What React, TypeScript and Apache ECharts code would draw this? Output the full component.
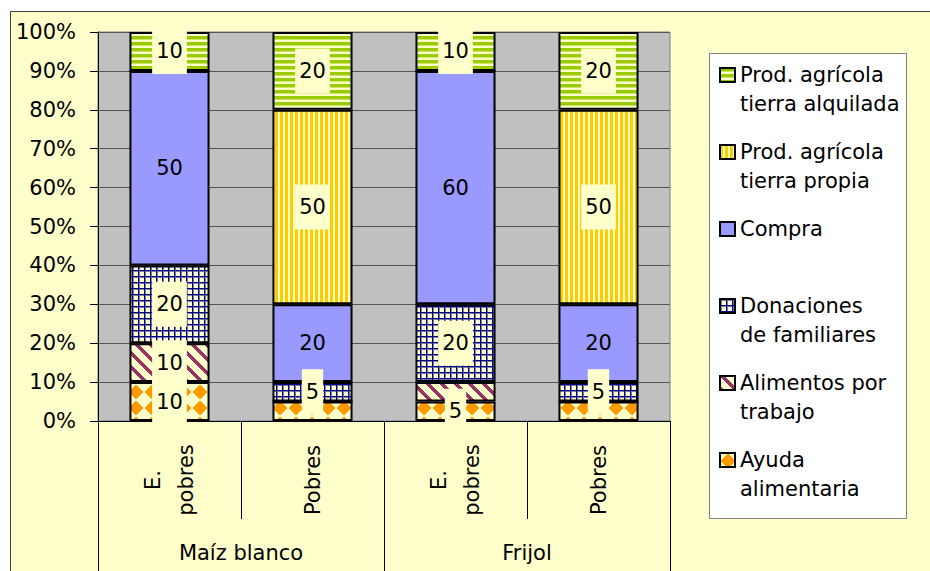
import React, { useEffect, useRef } from 'react';
import * as echarts from 'echarts';

// ---------- data ----------
const categories = ['E.\npobres', 'Pobres', 'E.\npobres', 'Pobres'];
const groups = ['Maíz blanco', 'Frijol'];
const seriesNames = [
  'Ayuda alimentaria',
  'Alimentos por trabajo',
  'Donaciones de familiares',
  'Compra',
  'Prod. agrícola tierra propia',
  'Prod. agrícola tierra alquilada',
];
const legendLines = [
  'Ayuda\nalimentaria',
  'Alimentos por\ntrabajo',
  'Donaciones\nde familiares',
  'Compra',
  'Prod. agrícola\ntierra propia',
  'Prod. agrícola\ntierra alquilada',
];
const ayudaAlimentaria = [10, 5, 5, 5];
const alimentosPorTrabajo = [10, 0, 5, 0];
const donacionesFamiliares = [20, 5, 20, 5];
const compra = [50, 20, 60, 20];
const tierraPropia = [0, 50, 0, 50];
const tierraAlquilada = [10, 20, 10, 20];
// labels hidden in the original (overlapping): [seriesIndex, categoryIndex]
const hiddenLabels = [[0, 1], [1, 2], [0, 3]];

const FONT = 'DejaVu Sans';
const LIGHT = '#FFFFCC';

function hexToRgb(h: string) {
  const n = parseInt(h.slice(1), 16);
  return [(n >> 16) & 255, (n >> 8) & 255, n & 255];
}

function makePattern(w: number, h: number, paint: (x: number, y: number) => string) {
  const c = document.createElement('canvas');
  c.width = w;
  c.height = h;
  const ctx = c.getContext('2d')!;
  const img = ctx.createImageData(w, h);
  for (let y = 0; y < h; y++) {
    for (let x = 0; x < w; x++) {
      const [r, g, b] = hexToRgb(paint(x, y));
      const i = (y * w + x) * 4;
      img.data[i] = r;
      img.data[i + 1] = g;
      img.data[i + 2] = b;
      img.data[i + 3] = 255;
    }
  }
  ctx.putImageData(img, 0, 0);
  return { image: c.toDataURL(), repeat: 'repeat', imageWidth: w, imageHeight: h } as any;
}

export default function App() {
  const ref = useRef<HTMLDivElement>(null);
  useEffect(() => {
    if (!ref.current) return;
    const chart = echarts.init(ref.current, null, { renderer: 'svg' });

    const patterns: any[] = [
      makePattern(16, 16, (x, y) => (Math.abs(x + 0.5 - 8) + Math.abs(y + 0.5 - 8) < 7.5 ? '#FF9900' : LIGHT)),
      makePattern(14, 14, (x, y) => ((((x - y) % 14) + 14) % 14 < 5 ? '#993366' : LIGHT)),
      makePattern(6, 6, (x, y) =>
        x === 0 || y === 0 ? '#000080' : x === 1 || y === 1 ? '#8080A6' : LIGHT
      ),
      '#9999FF',
      makePattern(5, 5, (x) => (x < 3 ? '#FFCC00' : LIGHT)),
      makePattern(6, 6, (_x, y) => (y < 3 ? '#99CC00' : y === 3 ? '#CCE666' : LIGHT)),
    ];

    const values = [ayudaAlimentaria, alimentosPorTrabajo, donacionesFamiliares, compra, tierraPropia, tierraAlquilada];
    const isHidden = (si: number, ci: number) => hiddenLabels.some(([s, c]) => s === si && c === ci);

    const barSeries = values.map((vals, si) => ({
      name: seriesNames[si],
      type: 'bar',
      stack: 'total',
      barWidth: '56%',
      barGap: '-100%',
      z: 2,
      itemStyle: { color: patterns[si], borderColor: '#000', borderWidth: 2 },
      label: { show: false },
      data: vals,
    }));

    // overlay series carrying the data labels so they sit above every bar
    const labelSeries = values.map((vals, si) => ({
      name: 'label-' + si,
      type: 'bar',
      stack: 'labels',
      barWidth: '56%',
      barGap: '-100%',
      z: 5,
      silent: true,
      legendHoverLink: false,
      itemStyle: { color: 'rgba(0,0,0,0)', borderWidth: 0 },
      label: {
        show: true,
        position: 'inside',
        color: '#000',
        fontSize: 21,
        fontFamily: FONT,
        lineHeight: 23,
        padding: [11, 4],
        backgroundColor: si === 3 ? 'transparent' : LIGHT,
      },
      data: vals.map((v, ci) => (v === 0 || isHidden(si, ci) ? { value: v, label: { show: false } } : v)),
    }));

    const legendMap: Record<string, string> = {};
    seriesNames.forEach((n, i) => {
      const t = legendLines[i];
      legendMap[n] = '\n' + t + (t.indexOf('\n') < 0 ? '\n' : '');
    });

    chart.setOption({
      animation: false,
      backgroundColor: '#FFFFCC',
      textStyle: { fontFamily: FONT },
      graphic: [
        { type: 'rect', shape: { x: 0, y: 0, width: 930, height: 11 }, style: { fill: '#fff' }, silent: true },
        { type: 'rect', shape: { x: 0, y: 0, width: 10, height: 571 }, style: { fill: '#fff' }, silent: true },
        {
          type: 'polyline',
          shape: { points: [[10.5, 600], [10.5, 11.5], [940, 11.5]] },
          style: { stroke: '#404040', lineWidth: 1, fill: 'none' },
          silent: true,
        },
        {
          type: 'rect',
          shape: { x: 709.5, y: 53.5, width: 197, height: 465 },
          style: { fill: '#fff', stroke: '#808080', lineWidth: 1 },
          silent: true,
        },
      ],
      legend: {
        orient: 'vertical',
        left: 719,
        top: 31.5,
        padding: 0,
        itemGap: -10,
        itemWidth: 15,
        itemHeight: 14,
        icon: 'rect',
        selectedMode: false,
        data: seriesNames.slice().reverse(),
        formatter: (name: string) => legendMap[name],
        textStyle: { fontSize: 21, fontFamily: FONT, color: '#000', lineHeight: 29 },
      },
      grid: {
        left: 98,
        right: 260,
        top: 32,
        bottom: 150,
        show: true,
        backgroundColor: '#C0C0C0',
        borderColor: '#808080',
        borderWidth: 1,
      },
      xAxis: [
        {
          type: 'category',
          data: categories,
          position: 'bottom',
          axisLine: { lineStyle: { color: '#000', width: 1 } },
          axisTick: { show: true, interval: 0, length: 98, lineStyle: { color: '#000' } },
          axisLabel: {
            interval: 0,
            rotate: 90,
            align: 'center',
            verticalAlign: 'middle',
            margin: 59,
            fontSize: 21,
            fontFamily: FONT,
            color: '#000',
            lineHeight: 33,
          },
          splitLine: { show: false },
        },
        {
          type: 'category',
          data: groups,
          position: 'bottom',
          offset: 98,
          axisLine: { show: false },
          axisTick: { show: true, interval: 0, length: 60, lineStyle: { color: '#000' } },
          axisLabel: { interval: 0, margin: 23, fontSize: 21, fontFamily: FONT, color: '#000' },
          splitLine: { show: false },
        },
      ],
      yAxis: {
        type: 'value',
        min: 0,
        max: 100,
        interval: 10,
        axisLine: { show: true, lineStyle: { color: '#000' } },
        axisTick: { show: true, length: 8, lineStyle: { color: '#000' } },
        axisLabel: { formatter: '{value}%', margin: 22, fontSize: 21, fontFamily: FONT, color: '#000' },
        splitLine: { show: true, lineStyle: { color: '#555', width: 1 } },
      },
      series: [...barSeries, ...labelSeries],
    });

    return () => chart.dispose();
  }, []);

  return (
    <div
      ref={ref}
      style={{ position: 'absolute', left: 0, top: 0, width: 930, height: 571 }}
    />
  );
}
